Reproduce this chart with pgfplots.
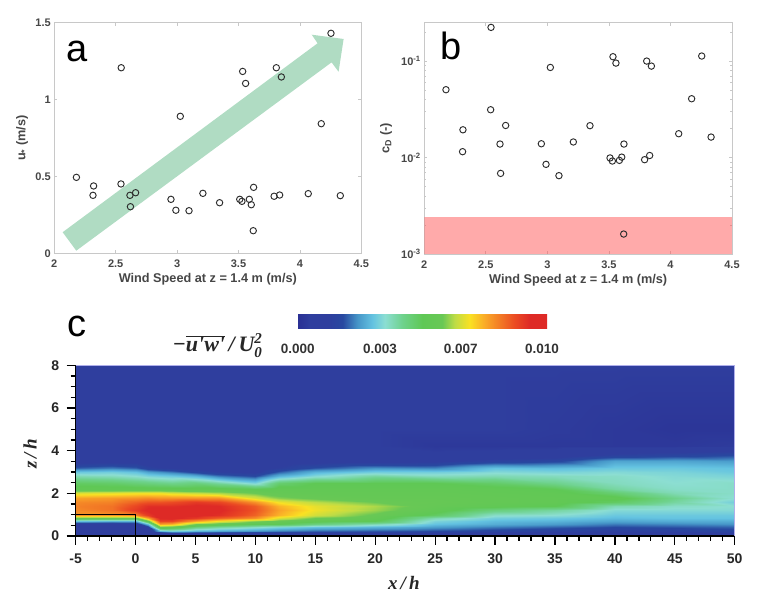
\documentclass[border=0pt]{standalone}
\usepackage{fontspec}
\usepackage{pgfplots}
\pgfplotsset{compat=1.18}
\setmainfont{Liberation Sans}
\newfontfamily\tms{Liberation Serif}
\definecolor{framegray}{RGB}{200,200,200}
\definecolor{labgray}{RGB}{70,70,70}
\definecolor{mkgray}{RGB}{45,45,45}
\definecolor{arrowgreen}{RGB}{123,197,155}
\definecolor{bandred}{RGB}{255,85,85}
\definecolor{edgeblue}{RGB}{175,175,235}
\pgfplotsset{
  small panel/.style={
    scale only axis,
    xmin=2, xmax=4.5,
    xtick={2,2.5,3,3.5,4,4.5},
    /pgf/number format/assume math mode=true,
    axis line style={framegray, line width=0.9pt},
    tick style={framegray, line width=0.7pt},
    major tick length=3pt, minor tick length=2pt,
    tick align=inside,
    tick label style={font=\fontsize{11}{13}\selectfont\bfseries, text=labgray},
    label style={font=\fontsize{12.7}{14}\selectfont\bfseries, text=labgray},
    xticklabel style={yshift=-3pt},
  },
  scatter pts/.style={only marks, mark=o, mark size=3.2pt, mark options={mkgray, line width=0.95pt}},
}
\begin{document}
\begin{tikzpicture}[x=1pt,y=1pt]
\path[use as bounding box] (0,0) rectangle (768,604);

% panel a
\begin{axis}[small panel, at={(54.3pt,350.7pt)}, anchor=south west,
  width=307pt, height=230.6pt,
  ymin=0, ymax=1.5, ytick={0,0.5,1,1.5},
  xlabel={Wind Speed at z = 1.4 m (m/s)},
  ylabel={u\textsubscript{*} (m/s)},
  xlabel style={at={(axis description cs:0.5,-0.113)}, anchor=center},
  ylabel style={at={(axis description cs:-0.105,0.5)}, anchor=center},
]
\addplot[scatter pts] coordinates {
  (2.18,0.494)(2.32,0.438)(2.315,0.377)(2.545,1.207)(2.543,0.451)(2.616,0.377)
  (2.662,0.394)(2.62,0.303)(2.95,0.351)(2.99,0.28)(3.026,0.891)(3.097,0.277)
  (3.21,0.39)(3.346,0.329)(3.51,0.351)(3.528,0.338)(3.534,1.183)(3.558,1.105)
  (3.588,0.351)(3.604,0.316)(3.623,0.429)(3.62,0.147)(3.79,0.371)(3.835,0.379)
  (3.808,1.207)(3.849,1.147)(4.068,0.388)(4.174,0.843)(4.253,1.431)(4.329,0.375)
};
\addplot[fill=arrowgreen, draw=none, opacity=0.6] coordinates {
  (2.068,0.137)(4.144,1.366)(4.096,1.422)(4.356,1.394)(4.315,1.181)(4.258,1.242)(2.179,0.017)
} --cycle;
\end{axis}

% panel b
\begin{axis}[small panel, at={(424.3pt,350pt)}, anchor=south west,
  width=307.7pt, height=231.3pt,
  ymode=log, ymin=0.001, ymax=0.25,
  ytick={0.001,0.01,0.1},
  yticklabels={10\textsuperscript{-3},10\textsuperscript{-2},10\textsuperscript{-1}},
  minor ytick={0.002,0.003,0.004,0.005,0.006,0.007,0.008,0.009,0.02,0.03,0.04,0.05,0.06,0.07,0.08,0.09,0.2},
  xlabel={Wind Speed at z = 1.4 m (m/s)},
  ylabel={c\textsubscript{D} (-)},
  xlabel style={at={(axis description cs:0.5,-0.114)}, anchor=center},
  ylabel style={at={(axis description cs:-0.124,0.5)}, anchor=center},
]
\addplot[scatter pts] coordinates {
  (2.176,0.0505)(2.314,0.0194)(2.311,0.0115)(2.542,0.2235)(2.539,0.0313)(2.661,0.0215)
  (2.615,0.0138)(2.62,0.00685)(2.951,0.0139)(2.989,0.0085)(3.024,0.0859)(3.094,0.00649)
  (3.211,0.0145)(3.346,0.0214)(3.509,0.0099)(3.528,0.0092)(3.533,0.111)(3.557,0.0953)
  (3.585,0.00935)(3.604,0.0101)(3.622,0.0138)(3.62,0.00161)(3.79,0.0095)(3.831,0.0105)
  (3.807,0.1)(3.845,0.0887)(4.067,0.01766)(4.172,0.0407)(4.254,0.1128)(4.33,0.0163)
};
\addplot[fill=bandred, draw=none, opacity=0.5] coordinates {
  (2,0.001)(4.5,0.001)(4.5,0.00244)(2,0.00244)
} --cycle;
\end{axis}

% panel c: field and colour bar
\begin{axis}[scale only axis, at={(75.7pt,68pt)}, anchor=south west,
  width=659pt, height=170.7pt,
  view={0}{90}, hide axis,
  xmin=-5, xmax=50, ymin=0, ymax=8,
  colormap={shear}{
    rgb255(0)=(42,48,148); rgb255(5)=(47,62,158); rgb255(12)=(47,62,158); rgb255(18)=(40,72,160);
    rgb255(24)=(70,150,200); rgb255(30)=(100,195,225); rgb255(35)=(140,222,210);
    rgb255(42)=(110,210,140); rgb255(50)=(95,200,85); rgb255(58)=(105,200,85);
    rgb255(63)=(190,220,70); rgb255(69)=(250,225,35); rgb255(75)=(250,170,40);
    rgb255(87)=(235,75,35); rgb255(93)=(222,42,38); rgb255(100)=(222,42,38)
  },
  point meta min=0, point meta max=100,
  colorbar horizontal,
  colorbar style={
    at={(0.3369,1.2144)}, anchor=south west,
    width=249.3pt, height=22.7pt,
    xtick={0,33,65.4,98},
    xticklabels={0.000,0.003,0.007,0.010},
    minor x tick num=0,
    xtick pos=left, major tick length=0pt,
    axis line style={draw=none},
    tick style={draw=none},
    xticklabel style={font=\fontsize{13.5}{15}\selectfont\bfseries, text=black!80, yshift=-12pt},
  },
]
\addplot3[surf, shader=interp, mesh/rows=23, mesh/cols=18, mesh/ordering=y varies] coordinates {
(-5,0,6)(-5,.12,6)(-5,.25,6)(-5,.4,6)(-5,.55,8)(-5,.7,30)(-5,.85,55)(-5,1,78)(-5,1.2,79)(-5,1.4,80)(-5,1.6,79)(-5,1.8,76)(-5,2,66)(-5,2.2,52)(-5,2.5,48)(-5,2.8,38)(-5,3,31)(-5,3.2,20)(-5,3.5,9)(-5,3.8,7)(-5,4.2,6)(-5,5,5)(-5,8,5)
(-2,0,6)(-2,.12,6)(-2,.25,6)(-2,.4,6)(-2,.55,8)(-2,.7,28)(-2,.85,55)(-2,1,78)(-2,1.2,82)(-2,1.4,82)(-2,1.6,80)(-2,1.8,77)(-2,2,67)(-2,2.2,52)(-2,2.5,47)(-2,2.8,37)(-2,3,32)(-2,3.2,22)(-2,3.5,10)(-2,3.8,7)(-2,4.2,6)(-2,5,5)(-2,8,5)
(0,0,6)(0,.12,6)(0,.25,6)(0,.4,6)(0,.55,10)(0,.7,28)(0,.85,55)(0,1,80)(0,1.2,90)(0,1.4,88)(0,1.6,84)(0,1.8,78)(0,2,68)(0,2.2,52)(0,2.5,45)(0,2.8,35)(0,3,30)(0,3.2,20)(0,3.5,10)(0,3.8,7)(0,4.2,6)(0,5,5)(0,8,5)
(1,0,6)(1,.12,6)(1,.25,8)(1,.4,14)(1,.55,30)(1,.7,55)(1,.85,76)(1,1,90)(1,1.2,94)(1,1.4,92)(1,1.6,86)(1,1.8,79)(1,2,68)(1,2.2,52)(1,2.5,44)(1,2.8,33)(1,3,26)(1,3.2,15)(1,3.5,8)(1,3.8,6)(1,4.2,6)(1,5,5)(1,8,5)
(2,0,6)(2,.12,8)(2,.25,28)(2,.4,56)(2,.55,76)(2,.7,88)(2,.85,94)(2,1,95)(2,1.2,95)(2,1.4,92)(2,1.6,86)(2,1.8,78)(2,2,68)(2,2.2,52)(2,2.5,43)(2,2.8,32)(2,3,24)(2,3.2,13)(2,3.5,8)(2,3.8,6)(2,4.2,6)(2,5,5)(2,8,5)
(3,0,6)(3,.12,12)(3,.25,32)(3,.4,54)(3,.55,74)(3,.7,88)(3,.85,95)(3,1,96)(3,1.2,95)(3,1.4,92)(3,1.6,87)(3,1.8,78)(3,2,66)(3,2.2,52)(3,2.5,42)(3,2.8,31)(3,3,22)(3,3.2,12)(3,3.5,8)(3,3.8,6)(3,4.2,6)(3,5,5)(3,8,5)
(5,0,6)(5,.12,12)(5,.25,28)(5,.4,44)(5,.55,58)(5,.7,76)(5,.85,90)(5,1,95)(5,1.2,95)(5,1.4,94)(5,1.6,90)(5,1.8,78)(5,2,64)(5,2.2,52)(5,2.5,44)(5,2.8,28)(5,3,17)(5,3.2,10)(5,3.5,7)(5,3.8,6)(5,4.2,6)(5,5,5)(5,8,5)
(7,0,6)(7,.12,12)(7,.25,26)(7,.4,40)(7,.55,54)(7,.7,68)(7,.85,84)(7,1,92)(7,1.2,94)(7,1.4,93)(7,1.6,88)(7,1.8,78)(7,2,62)(7,2.2,52)(7,2.5,40)(7,2.8,22)(7,3,13)(7,3.2,9)(7,3.5,7)(7,3.8,6)(7,4.2,6)(7,5,5)(7,8,5)
(10,0,6)(10,.12,11)(10,.25,24)(10,.4,36)(10,.55,50)(10,.7,60)(10,.85,78)(10,1,84)(10,1.2,86)(10,1.4,85)(10,1.6,78)(10,1.8,66)(10,2,58)(10,2.2,50)(10,2.5,33)(10,2.8,18)(10,3,11)(10,3.2,8)(10,3.5,7)(10,3.8,6)(10,4.2,6)(10,5,5)(10,8,5)
(12,0,6)(12,.12,11)(12,.25,22)(12,.4,33)(12,.55,50)(12,.7,56)(12,.85,66)(12,1,74)(12,1.2,76)(12,1.4,74)(12,1.6,68)(12,1.8,60)(12,2,55)(12,2.2,53)(12,2.5,46)(12,2.8,28)(12,3,20)(12,3.2,13)(12,3.5,8)(12,3.8,6)(12,4.2,6)(12,5,5)(12,8,5)
(15,0,6)(15,.12,10)(15,.25,20)(15,.4,30)(15,.55,44)(15,.7,52)(15,.85,58)(15,1,65)(15,1.2,68)(15,1.4,67)(15,1.6,63)(15,1.8,57)(15,2,54)(15,2.2,53)(15,2.5,50)(15,2.8,34)(15,3,28)(15,3.2,19)(15,3.5,9)(15,3.8,7)(15,4.2,6)(15,5,5)(15,8,5)
(20,0,6)(20,.12,10)(20,.25,19)(20,.4,28)(20,.55,38)(20,.7,50)(20,.85,54)(20,1,57)(20,1.2,61)(20,1.4,62)(20,1.6,58)(20,1.8,55)(20,2,54)(20,2.2,53)(20,2.5,50)(20,2.8,40)(20,3,32)(20,3.2,24)(20,3.5,10)(20,3.8,7)(20,4.2,5)(20,5,5)(20,8,5)
(25,0,6)(25,.12,10)(25,.25,18)(25,.4,25)(25,.55,30)(25,.7,33)(25,.85,38)(25,1,48)(25,1.2,53)(25,1.4,55)(25,1.6,56)(25,1.8,55)(25,2,54)(25,2.2,53)(25,2.5,50)(25,2.8,37)(25,3,32)(25,3.2,23)(25,3.5,11)(25,3.8,6)(25,4.2,3)(25,5,5)(25,8,5)
(30,0,6)(30,.12,9)(30,.25,16)(30,.4,22)(30,.55,27)(30,.7,29)(30,.85,32)(30,1,36)(30,1.2,44)(30,1.4,52)(30,1.6,54)(30,1.8,54)(30,2,53)(30,2.2,52)(30,2.5,47)(30,2.8,38)(30,3,34)(30,3.2,30)(30,3.5,15)(30,3.8,7)(30,4.2,3)(30,5,5)(30,8,5)
(35,0,6)(35,.12,8)(35,.25,14)(35,.4,20)(35,.55,25)(35,.7,28)(35,.85,31)(35,1,35)(35,1.2,40)(35,1.4,50)(35,1.6,53)(35,1.8,53)(35,2,52)(35,2.2,50)(35,2.5,42)(35,2.8,37)(35,3,33)(35,3.2,29)(35,3.5,17)(35,3.8,8)(35,4.2,3)(35,5,4)(35,8,5)
(40,0,7)(40,.12,9)(40,.25,13)(40,.4,18)(40,.55,22)(40,.7,26)(40,.85,29)(40,1,31)(40,1.2,34)(40,1.4,38)(40,1.6,48)(40,1.8,52)(40,2,46)(40,2.2,40)(40,2.5,37)(40,2.8,36)(40,3,34)(40,3.2,31)(40,3.5,26)(40,3.8,14)(40,4.2,3)(40,5,3)(40,8,5)
(45,0,7)(45,.12,10)(45,.25,14)(45,.4,19)(45,.55,23)(45,.7,27)(45,.85,30)(45,1,31)(45,1.2,34)(45,1.4,36)(45,1.6,40)(45,1.8,42)(45,2,38)(45,2.2,36)(45,2.5,35)(45,2.8,34)(45,3,33)(45,3.2,31)(45,3.5,26)(45,3.8,16)(45,4.2,3)(45,5,2)(45,8,5)
(50,0,7)(50,.12,12)(50,.25,16)(50,.4,20)(50,.55,24)(50,.7,27)(50,.85,30)(50,1,31)(50,1.2,34)(50,1.4,35)(50,1.6,32)(50,1.8,35)(50,2,36)(50,2.2,36)(50,2.5,36)(50,2.8,33)(50,3,31)(50,3.2,30)(50,3.5,25)(50,3.8,18)(50,4.2,4)(50,5,2)(50,8,5)
};
\end{axis}

% panel c: axes over the field
\begin{axis}[scale only axis, at={(75.7pt,68pt)}, anchor=south west,
  width=659pt, height=170.7pt,
  xmin=-5, xmax=50, ymin=0, ymax=8, clip=false,
  xtick={-5,0,...,50}, ytick={0,2,...,8},
  minor x tick num=4, minor y tick num=3,
  axis x line*=bottom, axis y line*=left,
  tick align=outside,
  major tick length=9pt, minor tick length=5pt,
  tick style={black, line width=1.3pt},
  /pgf/number format/assume math mode=true,
  tick label style={font=\fontsize{14}{16}\selectfont\bfseries, text=black!85},
  xticklabel style={yshift=-5.5pt},
  yticklabel style={xshift=-4pt},
  axis line style={black, line width=1.4pt, -},
  xlabel={\tms\bfseries\itshape x\,/\,h},
  ylabel={\tms\bfseries\itshape z\,/\,h},
  label style={font=\fontsize{19}{21}\selectfont, text=black!85},
  xlabel style={at={(axis description cs:0.498,-0.275)}, anchor=center},
  ylabel style={at={(axis description cs:-0.069,0.48)}, anchor=center},
]
\addplot[edgeblue, line width=0.6pt] coordinates {(-5,8)(50,8)(50,0)};
\addplot[black, line width=1pt] coordinates {(-5,1)(0,1)(0,0)};
\end{axis}

% panel letters and colour bar title
\node[anchor=base, font=\fontsize{38}{40}\selectfont] at (77,542) {a};
\node[anchor=base, font=\fontsize{38}{40}\selectfont] at (450.7,544) {b};
\node[anchor=base, font=\fontsize{38}{40}\selectfont] at (77,267) {c};
\node[anchor=base, font=\fontsize{22}{24}\selectfont\tms\bfseries\itshape, text=black!85] at (217.5,252)
  {−\(\overline{\mbox{u'w'}}\)\,/\,\(\mbox{U}_{\mbox{\fontsize{15}{16}\selectfont 0}}^{\mbox{\fontsize{15}{16}\selectfont 2}}\)};
\end{tikzpicture}
\end{document}
